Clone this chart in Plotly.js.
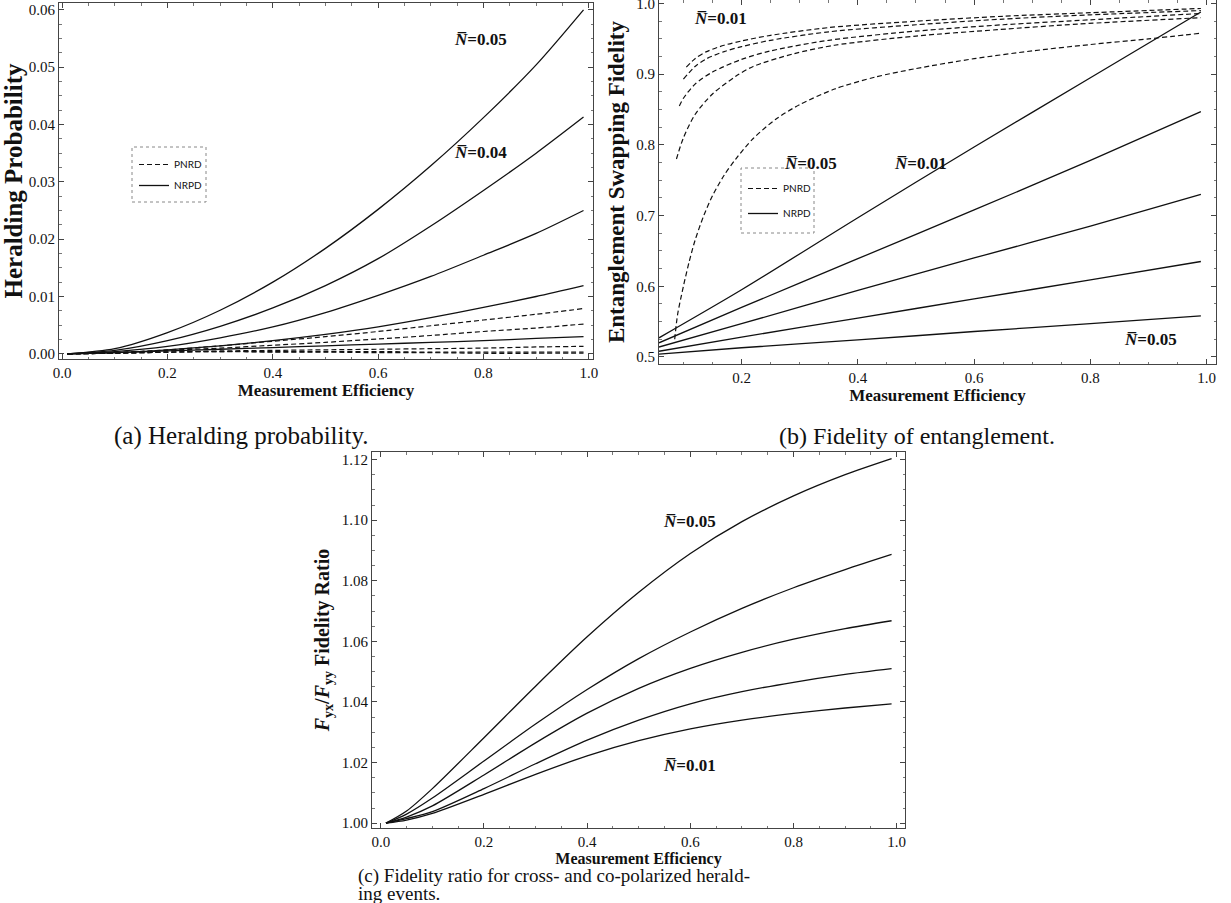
<!DOCTYPE html>
<html>
<head>
<meta charset="utf-8">
<script src="https://cdn.plot.ly/plotly-3.0.1.min.js"></script>
<style>
html,body{margin:0;padding:0;background:#fff;}
#chart{width:1231px;height:903px;}
</style>
</head>
<body>
<div id="chart"></div>
<script>
// ---------- Panel (a): Heralding probability ----------
const etaA = [0.01, 0.1, 0.2, 0.3, 0.4, 0.5, 0.6, 0.7, 0.8, 0.9, 0.99];
const heraldNRPD_N005 = [0, 0.0009, 0.0037, 0.0076, 0.0125, 0.0184, 0.0252, 0.0328, 0.0412, 0.0504, 0.0600];
const heraldNRPD_N004 = [0, 0.0006, 0.0023, 0.0048, 0.0080, 0.0119, 0.0166, 0.0223, 0.0285, 0.0350, 0.0413];
const heraldNRPD_N003 = [0, 0.0004, 0.0013, 0.0028, 0.0047, 0.0072, 0.0102, 0.0135, 0.0172, 0.0210, 0.0250];
const heraldNRPD_N002 = [0, 0.0002, 0.0007, 0.0014, 0.0023, 0.0034, 0.0047, 0.0063, 0.0081, 0.0100, 0.0119];
const heraldNRPD_N001 = [0, 0.0002, 0.0005, 0.0008, 0.0011, 0.0014, 0.0017, 0.0020, 0.0023, 0.0027, 0.0030];
const heraldPNRD_1 = [0, 0.0002, 0.0007, 0.0014, 0.0022, 0.0030, 0.0039, 0.0049, 0.0059, 0.0069, 0.0079];
const heraldPNRD_2 = [0, 0.0002, 0.0006, 0.0010, 0.0015, 0.0020, 0.0026, 0.0032, 0.0039, 0.0045, 0.0052];
const heraldPNRD_3 = [0, 0.0001, 0.0003, 0.0005, 0.0006, 0.0007, 0.0008, 0.0009, 0.0010, 0.0012, 0.0013];
const heraldPNRD_4 = [0, 0.0001, 0.0003, 0.0004, 0.0004, 0.0004, 0.0004, 0.0003, 0.0003, 0.0003, 0.0003];
const heraldPNRD_5 = [0, 0.0001, 0.0003, 0.0004, 0.0003, 0.0003, 0.0002, 0.0002, 0.0001, 0.0001, 0.0001];

// ---------- Panel (b): Entanglement swapping fidelity ----------
const etaB_solid = [0.058, 0.2, 0.4, 0.6, 0.8, 0.99];
const fidNRPD_N001 = [0.527, 0.595, 0.697, 0.797, 0.895, 0.988];
const fidNRPD_N002 = [0.520, 0.570, 0.639, 0.708, 0.778, 0.847];
const fidNRPD_N003 = [0.514, 0.547, 0.594, 0.640, 0.685, 0.730];
const fidNRPD_N004 = [0.508, 0.528, 0.555, 0.582, 0.609, 0.635];
const fidNRPD_N005 = [0.504, 0.513, 0.524, 0.536, 0.547, 0.558];

const etaB_N005 = [0.085, 0.09, 0.1, 0.11, 0.12, 0.135, 0.15, 0.17, 0.19, 0.22, 0.26, 0.3, 0.36, 0.43, 0.5, 0.6, 0.7, 0.8, 0.9, 0.99];
const fidPNRD_N005 = [0.525, 0.56, 0.600, 0.635, 0.665, 0.700, 0.728, 0.757, 0.780, 0.809, 0.837, 0.857, 0.879, 0.896, 0.908, 0.922, 0.933, 0.942, 0.950, 0.958];
const etaB_N004 = [0.088, 0.1, 0.12, 0.15, 0.19, 0.22, 0.29, 0.36, 0.5, 0.64, 0.78, 0.99];
const fidPNRD_N004 = [0.78, 0.81, 0.843, 0.872, 0.897, 0.911, 0.929, 0.941, 0.954, 0.963, 0.971, 0.980];
const etaB_N003 = [0.093, 0.1, 0.12, 0.15, 0.2, 0.25, 0.35, 0.5, 0.65, 0.8, 0.99];
const fidPNRD_N003 = [0.855, 0.866, 0.886, 0.903, 0.921, 0.933, 0.948, 0.961, 0.970, 0.977, 0.986];
const etaB_N002 = [0.1, 0.12, 0.14, 0.17, 0.2, 0.25, 0.35, 0.5, 0.65, 0.8, 0.99];
const fidPNRD_N002 = [0.893, 0.911, 0.922, 0.932, 0.939, 0.948, 0.960, 0.970, 0.978, 0.984, 0.990];
const etaB_N001 = [0.105, 0.12, 0.14, 0.17, 0.2, 0.25, 0.35, 0.5, 0.65, 0.8, 0.99];
const fidPNRD_N001 = [0.910, 0.922, 0.932, 0.941, 0.947, 0.955, 0.966, 0.975, 0.982, 0.987, 0.993];

// ---------- Panel (c): Fidelity ratio ----------
const etaC = [0.01, 0.05, 0.1, 0.2, 0.3, 0.4, 0.5, 0.6, 0.7, 0.8, 0.9, 0.99];
const ratio_N005 = [1.000, 1.0040, 1.0114, 1.0282, 1.0452, 1.0615, 1.0762, 1.0890, 1.0995, 1.1080, 1.1150, 1.1203];
const ratio_N004 = [1.000, 1.0030, 1.0083, 1.0205, 1.0327, 1.0441, 1.0543, 1.0631, 1.0709, 1.0777, 1.0837, 1.0887];
const ratio_N003 = [1.000, 1.0020, 1.0057, 1.0159, 1.0265, 1.0363, 1.0445, 1.0511, 1.0564, 1.0607, 1.0642, 1.0668];
const ratio_N002 = [1.000, 1.0015, 1.0038, 1.0114, 1.0196, 1.0274, 1.0340, 1.0394, 1.0434, 1.0465, 1.0491, 1.0510];
const ratio_N001 = [1.000, 1.0010, 1.0032, 1.0095, 1.0161, 1.0222, 1.0272, 1.0311, 1.0340, 1.0362, 1.0380, 1.0394];

const legendNames = ['PNRD', 'NRPD'];
const xTitle = 'Measurement Efficiency';
const yTitleA = 'Heralding Probability';
const yTitleB = 'Entanglement Swapping Fidelity';
const yTitleC = '<i>F</i><sub>yx</sub>/<i>F</i><sub>yy</sub> Fidelity Ratio';
const captionA = '(a) Heralding probability.';
const captionB = '(b) Fidelity of entanglement.';
const captionC1 = '(c) Fidelity ratio for cross- and co-polarized herald-';
const captionC2 = 'ing events.';

// ---------- styles ----------
const INK = '#111';
const SERIF = 'Liberation Serif';
const solid = {color: INK, width: 1.3, shape: 'spline', smoothing: 0.8};
const dashed = {color: INK, width: 1.2, dash: '5px,3px', shape: 'spline', smoothing: 0.8};

function tr(x, y, xa, ya, line, extra) {
  return Object.assign({type: 'scatter', mode: 'lines', x: x, y: y, xaxis: xa, yaxis: ya,
    line: line, showlegend: false, hoverinfo: 'skip'}, extra || {});
}
function inLeg(name, leg, grp) { return {showlegend: true, name: name, legend: leg, legendgroup: grp}; }

const data = [
  // panel a
  tr(etaA, heraldPNRD_1, 'x', 'y', dashed, inLeg(legendNames[0], 'legend', 'a1')),
  tr(etaA, heraldPNRD_2, 'x', 'y', dashed),
  tr(etaA, heraldPNRD_3, 'x', 'y', dashed),
  tr(etaA, heraldPNRD_4, 'x', 'y', dashed),
  tr(etaA, heraldPNRD_5, 'x', 'y', dashed),
  tr(etaA, heraldNRPD_N005, 'x', 'y', solid, inLeg(legendNames[1], 'legend', 'a2')),
  tr(etaA, heraldNRPD_N004, 'x', 'y', solid),
  tr(etaA, heraldNRPD_N003, 'x', 'y', solid),
  tr(etaA, heraldNRPD_N002, 'x', 'y', solid),
  tr(etaA, heraldNRPD_N001, 'x', 'y', solid),
  // panel b
  tr(etaB_N005, fidPNRD_N005, 'x2', 'y2', dashed, inLeg(legendNames[0], 'legend2', 'b1')),
  tr(etaB_N004, fidPNRD_N004, 'x2', 'y2', dashed),
  tr(etaB_N003, fidPNRD_N003, 'x2', 'y2', dashed),
  tr(etaB_N002, fidPNRD_N002, 'x2', 'y2', dashed),
  tr(etaB_N001, fidPNRD_N001, 'x2', 'y2', dashed),
  tr(etaB_solid, fidNRPD_N001, 'x2', 'y2', solid, inLeg(legendNames[1], 'legend2', 'b2')),
  tr(etaB_solid, fidNRPD_N002, 'x2', 'y2', solid),
  tr(etaB_solid, fidNRPD_N003, 'x2', 'y2', solid),
  tr(etaB_solid, fidNRPD_N004, 'x2', 'y2', solid),
  tr(etaB_solid, fidNRPD_N005, 'x2', 'y2', solid),
  // panel c
  tr(etaC, ratio_N005, 'x3', 'y3', solid),
  tr(etaC, ratio_N004, 'x3', 'y3', solid),
  tr(etaC, ratio_N003, 'x3', 'y3', solid),
  tr(etaC, ratio_N002, 'x3', 'y3', solid),
  tr(etaC, ratio_N001, 'x3', 'y3', solid)
];

const W = 1231, H = 903;
const tickFont = {family: SERIF, size: 15, color: INK};

function axis(domain, range, dtick, minorDtick, fmt, title, anchor, titleSize, standoff) {
  return {
    domain: domain, range: range, autorange: false, anchor: anchor,
    showline: true, linecolor: '#444', linewidth: 1, mirror: 'allticks',
    ticks: 'inside', ticklen: 5, tickwidth: 1, tickcolor: '#444',
    tick0: 0, dtick: dtick, tickformat: fmt, ticklabeloverflow: 'allow',
    minor: {ticks: 'inside', ticklen: 2.5, tickwidth: 0.8, tickcolor: '#555', dtick: minorDtick, tick0: 0, showgrid: false},
    showgrid: false, zeroline: false, tickfont: tickFont,
    title: {text: '<b>' + title + '</b>', font: {family: SERIF, size: titleSize, color: INK}, standoff: standoff}
  };
}

function xd(l, r) { return [l / W, r / W]; }
function yd(top, bottom) { return [1 - bottom / H, 1 - top / H]; }

const nbar = function (v) { return '<b><i>N\u0305</i>=' + v + '</b>'; };
const annFont = {family: SERIF, size: 17, color: INK};
function lab(x, y, xr, yr, v) {
  return {x: x, y: y, xref: xr, yref: yr, text: nbar(v), showarrow: false, font: annFont, xanchor: 'center', yanchor: 'middle'};
}
function cap(text, x, y, size, anchor) {
  return {x: x / W, y: 1 - y / H, xref: 'paper', yref: 'paper', text: text, showarrow: false,
    font: {family: SERIF, size: size, color: INK}, xanchor: anchor, yanchor: 'middle'};
}

const legFont = {family: 'Lato', size: 10, color: INK};

const layout = {
  width: W, height: H,
  margin: {l: 0, r: 0, t: 0, b: 0},
  paper_bgcolor: '#fff', plot_bgcolor: '#fff',
  showlegend: true,
  font: {family: SERIF, color: INK},
  xaxis: axis(xd(59, 593), [-0.006, 1.008], 0.2, 0.05, '.1f', xTitle, 'y', 17, 3),
  yaxis: axis(yd(3, 359), [-0.0009, 0.0612], 0.01, 0.0025, '.2f', yTitleA, 'x', 25, 4),
  xaxis2: axis(xd(659, 1216), [0.058, 1.016], 0.2, 0.05, '.1f', xTitle, 'y2', 17, 3),
  yaxis2: axis(yd(0, 364), [0.490, 1.005], 0.1, 0.025, '.1f', yTitleB, 'x2', 23, 5),
  xaxis3: axis(xd(372, 905), [-0.017, 1.016], 0.2, 0.05, '.1f', xTitle, 'y3', 16, 0),
  yaxis3: axis(yd(452, 828), [0.9984, 1.1225], 0.02, 0.005, '.2f', yTitleC, 'x3', 20, 6),
  legend: {x: 134 / W, y: 1 - 150 / H, xanchor: 'left', yanchor: 'top', bgcolor: 'rgba(0,0,0,0)', borderwidth: 0,
    font: legFont, itemwidth: 30, traceorder: 'grouped', tracegroupgap: 2},
  legend2: {x: 743 / W, y: 1 - 174 / H, xanchor: 'left', yanchor: 'top', bgcolor: 'rgba(0,0,0,0)', borderwidth: 0,
    font: legFont, itemwidth: 30, traceorder: 'grouped', tracegroupgap: 6},
  shapes: [
    {type: 'rect', xref: 'paper', yref: 'paper', x0: 132 / W, x1: 206 / W, y0: 1 - 202 / H, y1: 1 - 147 / H,
      line: {color: '#888', width: 1, dash: 'dot'}, fillcolor: 'rgba(0,0,0,0)'},
    {type: 'rect', xref: 'paper', yref: 'paper', x0: 741 / W, x1: 814 / W, y0: 1 - 233 / H, y1: 1 - 168 / H,
      line: {color: '#888', width: 1, dash: 'dot'}, fillcolor: 'rgba(0,0,0,0)'}
  ],
  annotations: [
    lab(0.795, 0.0548, 'x', 'y', '0.05'),
    lab(0.795, 0.0352, 'x', 'y', '0.04'),
    lab(0.163, 0.979, 'x2', 'y2', '0.01'),
    lab(0.318, 0.774, 'x2', 'y2', '0.05'),
    lab(0.507, 0.774, 'x2', 'y2', '0.01'),
    lab(0.903, 0.525, 'x2', 'y2', '0.05'),
    lab(0.599, 1.0997, 'x3', 'y3', '0.05'),
    lab(0.599, 1.0191, 'x3', 'y3', '0.01'),
    cap(captionA, 241, 436, 25, 'center'),
    cap(captionB, 917, 436, 24, 'center'),
    cap(captionC1, 356, 876, 19, 'left'),
    cap(captionC2, 356, 893, 19, 'left')
  ]
};

Plotly.newPlot('chart', data, layout, {displayModeBar: false, staticPlot: true});
</script>
</body>
</html>
